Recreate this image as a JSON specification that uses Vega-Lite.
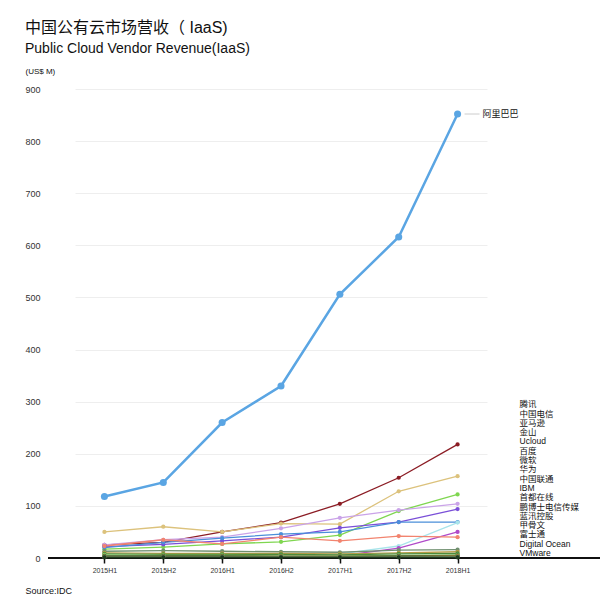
{
  "$schema": "https://vega.github.io/schema/vega-lite/v6.json",
  "width": 552,
  "height": 469,
  "autosize": {"type": "none"},
  "padding": {"left": 48, "top": 89, "right": 7, "bottom": 45},
  "background": "white",
  "title": {
    "text": "中国公有云市场营收（ IaaS)",
    "subtitle": "Public Cloud Vendor Revenue(IaaS)",
    "anchor": "start",
    "frame": "group",
    "dx": -23,
    "fontSize": 16,
    "fontWeight": "normal",
    "font": "Liberation Sans, Noto Sans CJK SC",
    "color": "#111111",
    "subtitleFontSize": 14,
    "subtitleFont": "Liberation Sans",
    "subtitleColor": "#111111",
    "subtitlePadding": 6,
    "offset": 11
  },
  "config": {
    "view": {"stroke": null},
    "font": "Liberation Sans, Noto Sans CJK SC"
  },
  "data": {
    "values": [
      {"vendor": "阿里巴巴", "period": "2015H1", "revenue": 118},
      {"vendor": "阿里巴巴", "period": "2015H2", "revenue": 145},
      {"vendor": "阿里巴巴", "period": "2016H1", "revenue": 260},
      {"vendor": "阿里巴巴", "period": "2016H2", "revenue": 330},
      {"vendor": "阿里巴巴", "period": "2017H1", "revenue": 506},
      {"vendor": "阿里巴巴", "period": "2017H2", "revenue": 616},
      {"vendor": "阿里巴巴", "period": "2018H1", "revenue": 852},
      {"vendor": "腾讯", "period": "2015H1", "revenue": 25},
      {"vendor": "腾讯", "period": "2015H2", "revenue": 30},
      {"vendor": "腾讯", "period": "2016H1", "revenue": 50},
      {"vendor": "腾讯", "period": "2016H2", "revenue": 68},
      {"vendor": "腾讯", "period": "2017H1", "revenue": 104},
      {"vendor": "腾讯", "period": "2017H2", "revenue": 154},
      {"vendor": "腾讯", "period": "2018H1", "revenue": 218},
      {"vendor": "中国电信", "period": "2015H1", "revenue": 50},
      {"vendor": "中国电信", "period": "2015H2", "revenue": 60},
      {"vendor": "中国电信", "period": "2016H1", "revenue": 50},
      {"vendor": "中国电信", "period": "2016H2", "revenue": 66},
      {"vendor": "中国电信", "period": "2017H1", "revenue": 65},
      {"vendor": "中国电信", "period": "2017H2", "revenue": 128},
      {"vendor": "中国电信", "period": "2018H1", "revenue": 157},
      {"vendor": "亚马逊", "period": "2015H1", "revenue": 17},
      {"vendor": "亚马逊", "period": "2015H2", "revenue": 21},
      {"vendor": "亚马逊", "period": "2016H1", "revenue": 27},
      {"vendor": "亚马逊", "period": "2016H2", "revenue": 31},
      {"vendor": "亚马逊", "period": "2017H1", "revenue": 44},
      {"vendor": "亚马逊", "period": "2017H2", "revenue": 90},
      {"vendor": "亚马逊", "period": "2018H1", "revenue": 122},
      {"vendor": "金山", "period": "2015H1", "revenue": 25},
      {"vendor": "金山", "period": "2015H2", "revenue": 35},
      {"vendor": "金山", "period": "2016H1", "revenue": 40},
      {"vendor": "金山", "period": "2016H2", "revenue": 57},
      {"vendor": "金山", "period": "2017H1", "revenue": 77},
      {"vendor": "金山", "period": "2017H2", "revenue": 92},
      {"vendor": "金山", "period": "2018H1", "revenue": 104},
      {"vendor": "Ucloud", "period": "2015H1", "revenue": 22},
      {"vendor": "Ucloud", "period": "2015H2", "revenue": 26},
      {"vendor": "Ucloud", "period": "2016H1", "revenue": 33},
      {"vendor": "Ucloud", "period": "2016H2", "revenue": 40},
      {"vendor": "Ucloud", "period": "2017H1", "revenue": 58},
      {"vendor": "Ucloud", "period": "2017H2", "revenue": 69},
      {"vendor": "Ucloud", "period": "2018H1", "revenue": 94},
      {"vendor": "百度", "period": "2015H1", "revenue": 20},
      {"vendor": "百度", "period": "2015H2", "revenue": 30},
      {"vendor": "百度", "period": "2016H1", "revenue": 38},
      {"vendor": "百度", "period": "2016H2", "revenue": 46},
      {"vendor": "百度", "period": "2017H1", "revenue": 50},
      {"vendor": "百度", "period": "2017H2", "revenue": 69},
      {"vendor": "百度", "period": "2018H1", "revenue": 69},
      {"vendor": "微软", "period": "2015H1", "revenue": 6},
      {"vendor": "微软", "period": "2015H2", "revenue": 6},
      {"vendor": "微软", "period": "2016H1", "revenue": 7},
      {"vendor": "微软", "period": "2016H2", "revenue": 7},
      {"vendor": "微软", "period": "2017H1", "revenue": 8},
      {"vendor": "微软", "period": "2017H2", "revenue": 23},
      {"vendor": "微软", "period": "2018H1", "revenue": 68},
      {"vendor": "华为", "period": "2015H1", "revenue": 2},
      {"vendor": "华为", "period": "2015H2", "revenue": 3},
      {"vendor": "华为", "period": "2016H1", "revenue": 3},
      {"vendor": "华为", "period": "2016H2", "revenue": 3},
      {"vendor": "华为", "period": "2017H1", "revenue": 4},
      {"vendor": "华为", "period": "2017H2", "revenue": 19},
      {"vendor": "华为", "period": "2018H1", "revenue": 50},
      {"vendor": "中国联通", "period": "2015H1", "revenue": 23},
      {"vendor": "中国联通", "period": "2015H2", "revenue": 35},
      {"vendor": "中国联通", "period": "2016H1", "revenue": 27},
      {"vendor": "中国联通", "period": "2016H2", "revenue": 40},
      {"vendor": "中国联通", "period": "2017H1", "revenue": 33},
      {"vendor": "中国联通", "period": "2017H2", "revenue": 42},
      {"vendor": "中国联通", "period": "2018H1", "revenue": 40},
      {"vendor": "IBM", "period": "2015H1", "revenue": 13},
      {"vendor": "IBM", "period": "2015H2", "revenue": 14},
      {"vendor": "IBM", "period": "2016H1", "revenue": 13},
      {"vendor": "IBM", "period": "2016H2", "revenue": 12},
      {"vendor": "IBM", "period": "2017H1", "revenue": 11},
      {"vendor": "IBM", "period": "2017H2", "revenue": 15},
      {"vendor": "IBM", "period": "2018H1", "revenue": 16},
      {"vendor": "首都在线", "period": "2015H1", "revenue": 10},
      {"vendor": "首都在线", "period": "2015H2", "revenue": 9},
      {"vendor": "首都在线", "period": "2016H1", "revenue": 9},
      {"vendor": "首都在线", "period": "2016H2", "revenue": 9},
      {"vendor": "首都在线", "period": "2017H1", "revenue": 8},
      {"vendor": "首都在线", "period": "2017H2", "revenue": 10},
      {"vendor": "首都在线", "period": "2018H1", "revenue": 12},
      {"vendor": "鹏博士电信传媒", "period": "2015H1", "revenue": 8},
      {"vendor": "鹏博士电信传媒", "period": "2015H2", "revenue": 7},
      {"vendor": "鹏博士电信传媒", "period": "2016H1", "revenue": 7},
      {"vendor": "鹏博士电信传媒", "period": "2016H2", "revenue": 7},
      {"vendor": "鹏博士电信传媒", "period": "2017H1", "revenue": 6},
      {"vendor": "鹏博士电信传媒", "period": "2017H2", "revenue": 8},
      {"vendor": "鹏博士电信传媒", "period": "2018H1", "revenue": 9},
      {"vendor": "蓝汛控股", "period": "2015H1", "revenue": 6},
      {"vendor": "蓝汛控股", "period": "2015H2", "revenue": 5},
      {"vendor": "蓝汛控股", "period": "2016H1", "revenue": 5},
      {"vendor": "蓝汛控股", "period": "2016H2", "revenue": 4},
      {"vendor": "蓝汛控股", "period": "2017H1", "revenue": 4},
      {"vendor": "蓝汛控股", "period": "2017H2", "revenue": 5},
      {"vendor": "蓝汛控股", "period": "2018H1", "revenue": 6},
      {"vendor": "甲骨文", "period": "2015H1", "revenue": 4},
      {"vendor": "甲骨文", "period": "2015H2", "revenue": 4},
      {"vendor": "甲骨文", "period": "2016H1", "revenue": 4},
      {"vendor": "甲骨文", "period": "2016H2", "revenue": 3},
      {"vendor": "甲骨文", "period": "2017H1", "revenue": 3},
      {"vendor": "甲骨文", "period": "2017H2", "revenue": 4},
      {"vendor": "甲骨文", "period": "2018H1", "revenue": 5},
      {"vendor": "富士通", "period": "2015H1", "revenue": 3},
      {"vendor": "富士通", "period": "2015H2", "revenue": 3},
      {"vendor": "富士通", "period": "2016H1", "revenue": 3},
      {"vendor": "富士通", "period": "2016H2", "revenue": 3},
      {"vendor": "富士通", "period": "2017H1", "revenue": 3},
      {"vendor": "富士通", "period": "2017H2", "revenue": 3},
      {"vendor": "富士通", "period": "2018H1", "revenue": 4},
      {"vendor": "Digital Ocean", "period": "2015H1", "revenue": 2},
      {"vendor": "Digital Ocean", "period": "2015H2", "revenue": 2},
      {"vendor": "Digital Ocean", "period": "2016H1", "revenue": 2},
      {"vendor": "Digital Ocean", "period": "2016H2", "revenue": 2},
      {"vendor": "Digital Ocean", "period": "2017H1", "revenue": 2},
      {"vendor": "Digital Ocean", "period": "2017H2", "revenue": 2},
      {"vendor": "Digital Ocean", "period": "2018H1", "revenue": 2},
      {"vendor": "VMware", "period": "2015H1", "revenue": 1},
      {"vendor": "VMware", "period": "2015H2", "revenue": 1},
      {"vendor": "VMware", "period": "2016H1", "revenue": 1},
      {"vendor": "VMware", "period": "2016H2", "revenue": 1},
      {"vendor": "VMware", "period": "2017H1", "revenue": 1},
      {"vendor": "VMware", "period": "2017H2", "revenue": 1},
      {"vendor": "VMware", "period": "2018H1", "revenue": 1}
    ]
  },
  "layer": [
    {
      "mark": {"type": "rule", "color": "#111111", "strokeWidth": 1.5},
      "encoding": {"y": {"datum": 0, "type": "quantitative"}}
    },
    {
      "transform": [{"filter": "datum.vendor !== '阿里巴巴'"}],
      "mark": {"type": "line", "strokeWidth": 1.3, "point": {"filled": true, "size": 18}},
      "encoding": {
        "x": {
          "field": "period",
          "type": "ordinal",
          "scale": {"type": "point", "range": [27, 439]},
          "axis": {
            "title": "Source:IDC",
            "titleX": -23,
            "titleY": 35,
            "titleAlign": "left",
            "titleBaseline": "alphabetic",
            "titleFontSize": 9,
            "titleFontWeight": "normal",
            "titleColor": "#111111",
            "domain": false,
            "ticks": true,
            "tickColor": "#111111",
            "tickSize": 5,
            "tickWidth": 1.5,
            "labelFontSize": 7,
            "labelAngle": 0,
            "labelColor": "#333333",
            "labelPadding": 3,
            "grid": false
          }
        },
        "y": {
          "field": "revenue",
          "type": "quantitative",
          "scale": {"domain": [0, 900], "nice": false},
          "axis": {
            "title": "(US$ M)",
            "titleAngle": 0,
            "titleAlign": "left",
            "titleBaseline": "alphabetic",
            "titleX": -23,
            "titleY": -16,
            "titleFontSize": 8,
            "titleFontWeight": "normal",
            "titleColor": "#111111",
            "values": [0, 100, 200, 300, 400, 500, 600, 700, 800, 900],
            "grid": true,
            "gridColor": "#eeeeee",
            "domain": false,
            "ticks": false,
            "labelPadding": 8,
            "labelFontSize": 9,
            "labelColor": "#333333"
          }
        },
        "color": {
          "field": "vendor",
          "type": "nominal",
          "scale": {
            "domain": ["阿里巴巴", "腾讯", "中国电信", "亚马逊", "金山", "Ucloud", "百度", "微软", "华为", "中国联通", "IBM", "首都在线", "鹏博士电信传媒", "蓝汛控股", "甲骨文", "富士通", "Digital Ocean", "VMware"],
            "range": ["#5aa5e3", "#8b1c24", "#dcc27c", "#7fd650", "#caa3e8", "#7a4fd8", "#4b8fd9", "#a8e4ea", "#b04ac9", "#f2846f", "#6f8f6f", "#b59b45", "#4d8c3c", "#8ccc6c", "#2f5a2f", "#a0853a", "#5c7f5c", "#1e3a1e"]
          },
          "legend": {
            "orient": "none",
            "legendX": 463,
            "legendY": 311,
            "title": null,
            "padding": 0,
            "values": ["腾讯", "中国电信", "亚马逊", "金山", "Ucloud", "百度", "微软", "华为", "中国联通", "IBM", "首都在线", "鹏博士电信传媒", "蓝汛控股", "甲骨文", "富士通", "Digital Ocean", "VMware"],
            "symbolSize": 0,
            "symbolStrokeWidth": 0,
            "symbolOpacity": 0,
            "labelOffset": 0,
            "labelFontSize": 8.5,
            "labelColor": "#111111",
            "rowPadding": 0.3,
            "labelLimit": 200
          }
        }
      }
    },
    {
      "transform": [{"filter": "datum.vendor === '阿里巴巴'"}],
      "mark": {"type": "line", "strokeWidth": 2.5, "point": {"filled": true, "size": 50}},
      "encoding": {
        "x": {"field": "period", "type": "ordinal"},
        "y": {"field": "revenue", "type": "quantitative"},
        "color": {"field": "vendor", "type": "nominal"}
      }
    },
    {
      "transform": [{"filter": "datum.vendor === '阿里巴巴' && datum.period === '2018H1'"}],
      "mark": {"type": "rule", "color": "#cccccc", "strokeWidth": 1, "xOffset": 7, "x2Offset": 22},
      "encoding": {
        "x": {"field": "period", "type": "ordinal"},
        "x2": {"field": "period"},
        "y": {"field": "revenue", "type": "quantitative"}
      }
    },
    {
      "transform": [{"filter": "datum.vendor === '阿里巴巴' && datum.period === '2018H1'"}],
      "mark": {"type": "text", "align": "left", "dx": 25, "fontSize": 9, "color": "#111111"},
      "encoding": {
        "x": {"field": "period", "type": "ordinal"},
        "y": {"field": "revenue", "type": "quantitative"},
        "text": {"field": "vendor"}
      }
    }
  ]
}
